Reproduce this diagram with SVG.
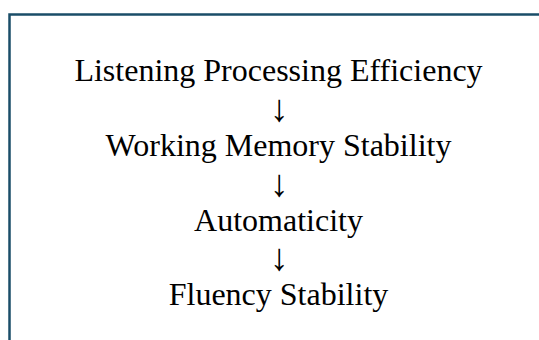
<svg xmlns="http://www.w3.org/2000/svg" width="539" height="340" viewBox="0 0 539 340">
<style>
.t{font-family:"Liberation Serif","Times New Roman",serif;font-size:32px;fill:#000;text-anchor:middle}
.a{font-family:"Liberation Serif","Times New Roman",serif;font-size:38px;fill:#000;text-anchor:middle}
.frame{fill:none;stroke:#1a4d68;stroke-width:2.5}
</style>
<rect width="539" height="340" fill="#fff"/>
<path class="frame" d="M9.5,340 V14.5 H539"/>
<g id="node-listening"><text class="t" x="278.5" y="81">Listening Processing Efficiency</text></g>
<g id="node-working-memory"><text class="t" x="278.5" y="156">Working Memory Stability</text></g>
<g id="node-automaticity"><text class="t" x="278.5" y="230.5">Automaticity</text></g>
<g id="node-fluency"><text class="t" x="278.5" y="305">Fluency Stability</text></g>
<g id="connectors">
<text class="a" x="279" y="121">↓</text>
<text class="a" x="279" y="195.5">↓</text>
<text class="a" x="279" y="270">↓</text>
</g>
</svg>
